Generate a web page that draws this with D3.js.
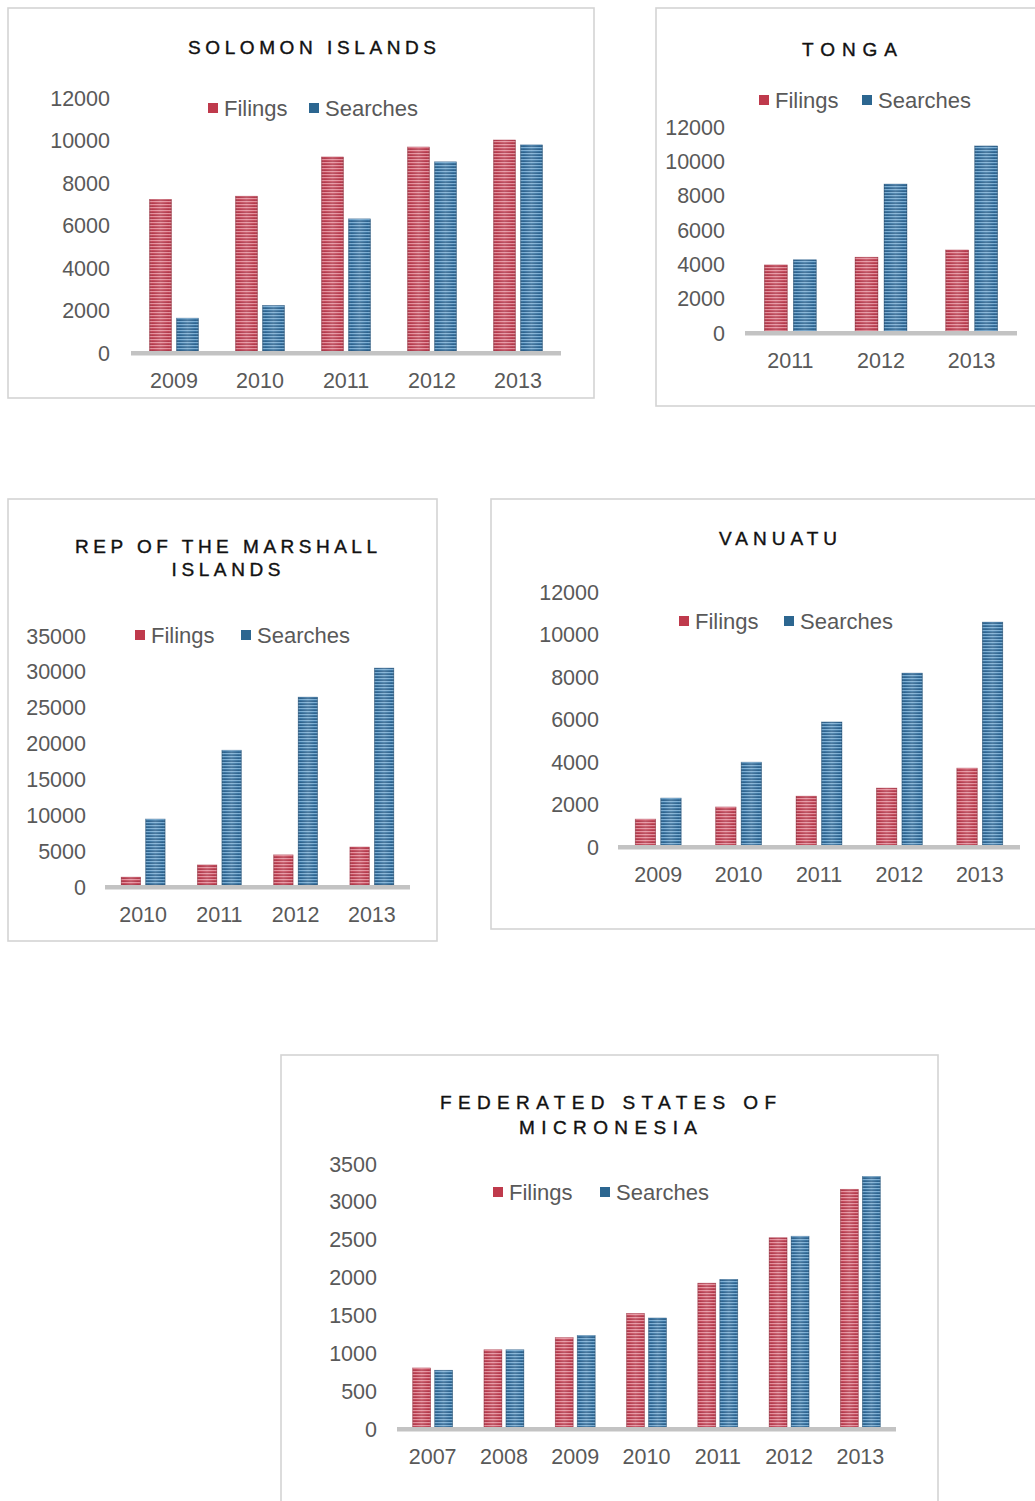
<!DOCTYPE html>
<html><head><meta charset="utf-8">
<script src="https://cdn.jsdelivr.net/npm/d3@7"></script>
<style>
html,body{margin:0;padding:0;background:#fff;}
svg{display:block;font-family:"Liberation Sans",Arial,sans-serif;}
</style></head>
<body>
<script>
// ---------- DATA ----------
const seriesNames = ["Filings", "Searches"];

const solomonYears = ["2009", "2010", "2011", "2012", "2013"];
const solomonFilings = [7150, 7300, 9150, 9620, 9950];
const solomonSearches = [1550, 2150, 6230, 8920, 9720];
const solomonTicks = [0, 2000, 4000, 6000, 8000, 10000, 12000];

const tongaYears = ["2011", "2012", "2013"];
const tongaFilings = [3850, 4300, 4720];
const tongaSearches = [4150, 8560, 10780];
const tongaTicks = [0, 2000, 4000, 6000, 8000, 10000, 12000];

const marshallYears = ["2010", "2011", "2012", "2013"];
const marshallFilings = [1100, 2800, 4200, 5300];
const marshallSearches = [9200, 18800, 26200, 30250];
const marshallTicks = [0, 5000, 10000, 15000, 20000, 25000, 30000, 35000];

const vanuatuYears = ["2009", "2010", "2011", "2012", "2013"];
const vanuatuFilings = [1220, 1790, 2300, 2680, 3620];
const vanuatuSearches = [2210, 3900, 5790, 8090, 10490];
const vanuatuTicks = [0, 2000, 4000, 6000, 8000, 10000, 12000];

const fsmYears = ["2007", "2008", "2009", "2010", "2011", "2012", "2013"];
const fsmFilings = [780, 1020, 1180, 1500, 1900, 2500, 3140];
const fsmSearches = [750, 1020, 1210, 1440, 1950, 2520, 3310];
const fsmTicks = [0, 500, 1000, 1500, 2000, 2500, 3000, 3500];

// ---------- LAYOUT ----------
const panels = [
  {title:["SOLOMON ISLANDS"], years:solomonYears, f:solomonFilings, s:solomonSearches, ticks:solomonTicks,
   box:[8,8,586,390], tx:312, ty:[47], tl:[248], x0:131, x1:561, y0:351, yTop:96.5,
   lab:110, legY:108, legF:208, legS:309, bw:22, gap:5},
  {title:["TONGA"], years:tongaYears, f:tongaFilings, s:tongaSearches, ticks:tongaTicks,
   box:[656,8,420,398], tx:849.5, ty:[49], tl:[95], x0:745, x1:1017, y0:331, yTop:125,
   lab:725, legY:100, legF:759, legS:862, bw:23, gap:6},
  {title:["REP OF THE MARSHALL","ISLANDS"], years:marshallYears, f:marshallFilings, s:marshallSearches, ticks:marshallTicks,
   box:[8,499,429,442], tx:226, ty:[546,569], tl:[302,109], x0:105, x1:410, y0:885, yTop:634,
   lab:86, legY:635, legF:135, legS:241, bw:19.5, gap:5},
  {title:["VANUATU"], years:vanuatuYears, f:vanuatuFilings, s:vanuatuSearches, ticks:vanuatuTicks,
   box:[491,499,580,430], tx:778, ty:[538], tl:[118], x0:618, x1:1020, y0:845, yTop:590,
   lab:599, legY:621, legF:679, legS:784, bw:20.5, gap:5},
  {title:["FEDERATED STATES OF","MICRONESIA"], years:fsmYears, f:fsmFilings, s:fsmSearches, ticks:fsmTicks,
   box:[281,1055,657,470], tx:608, ty:[1102,1127], tl:[336,178], x0:397, x1:896, y0:1427, yTop:1162,
   lab:377, legY:1192, legF:493, legS:600, bw:18, gap:4}
];

const W = 1035, H = 1501;
const svg = d3.select("body").append("svg").attr("width", W).attr("height", H);
const defs = svg.append("defs");

const palette = {
  Filings:  {base:"#c44a5b", light:"#e48f9c", dark:"#a93244", legend:"#bf3a4c"},
  Searches: {base:"#3a74a1", light:"#7aadd3", dark:"#275883", legend:"#2c6690"}
};
Object.entries(palette).forEach(([k, c]) => {
  const p = defs.append("pattern").attr("id", "pat" + k)
    .attr("patternUnits", "userSpaceOnUse").attr("width", 8).attr("height", 3);
  p.append("rect").attr("width", 8).attr("height", 3).attr("fill", c.base);
  p.append("rect").attr("y", 0).attr("width", 8).attr("height", 1).attr("fill", c.light);
  p.append("rect").attr("y", 2).attr("width", 8).attr("height", 1).attr("fill", c.dark).attr("opacity", 0.7);
});
const g = defs.append("linearGradient").attr("id", "shade").attr("x1", 0).attr("x2", 1).attr("y1", 0).attr("y2", 0);
[[0, "#000", 0.18], [0.12, "#fff", 0.0], [0.5, "#fff", 0.15], [0.88, "#fff", 0.0], [1, "#000", 0.18]]
  .forEach(([o, c, a]) => g.append("stop").attr("offset", o).attr("stop-color", c).attr("stop-opacity", a));

panels.forEach(P => {
  const gp = svg.append("g");
  // panel frame
  gp.append("rect").attr("x", P.box[0]).attr("y", P.box[1]).attr("width", P.box[2]).attr("height", P.box[3])
    .attr("fill", "#fff").attr("stroke", "#d4d4d4").attr("stroke-width", 1.6);

  // title
  P.title.forEach((t, i) => {
    gp.append("text").attr("x", P.tx).attr("y", P.ty[i]).attr("dy", "0.36em")
      .attr("text-anchor", "middle").attr("font-size", 19)
      .attr("textLength", P.tl[i]).attr("lengthAdjust", "spacing")
      .attr("fill", "#111").attr("stroke", "#111").attr("stroke-width", 0.4)
      .text(t);
  });

  const data = P.years.map((y, i) => ({year: y, Filings: P.f[i], Searches: P.s[i]}));
  const x = d3.scaleBand().domain(P.years).range([P.x0, P.x1]).paddingInner(0).paddingOuter(0);
  const y = d3.scaleLinear().domain([0, d3.max(P.ticks)]).range([P.y0, P.yTop]);
  const pin = P.gap / (P.bw + P.gap);
  const inner = d3.scaleBand().domain(seriesNames).range([-(P.bw + P.gap / 2), P.bw + P.gap / 2])
    .paddingInner(pin).paddingOuter(0);

  // y axis labels
  const ya = gp.append("g").attr("transform", `translate(${P.lab},0)`)
    .call(d3.axisLeft(y).tickValues(P.ticks).tickSize(0).tickPadding(0).tickFormat(d3.format("d")));
  ya.select(".domain").remove();
  ya.selectAll("text").attr("font-size", 21.5).attr("dy", "0.42em").attr("fill", "#595959")
    .attr("font-family", "Liberation Sans, Arial, sans-serif");

  // bars
  const grp = gp.selectAll(".grp").data(data).enter().append("g")
    .attr("transform", d => `translate(${x(d.year) + x.bandwidth() / 2},0)`);
  seriesNames.forEach(k => {
    grp.append("rect").attr("x", inner(k)).attr("width", inner.bandwidth())
      .attr("y", d => y(d[k])).attr("height", d => P.y0 - y(d[k]))
      .attr("fill", `url(#pat${k})`).attr("stroke", palette[k].dark).attr("stroke-width", 0.6).attr("stroke-opacity", 0.6);
    grp.append("rect").attr("x", inner(k)).attr("width", inner.bandwidth())
      .attr("y", d => y(d[k])).attr("height", d => P.y0 - y(d[k]))
      .attr("fill", "url(#shade)");
  });

  // baseline
  gp.append("rect").attr("x", P.x0).attr("y", P.y0).attr("width", P.x1 - P.x0).attr("height", 4.5).attr("fill", "#c3c3c3");

  // x axis labels
  const xa = gp.append("g").attr("transform", `translate(0,${P.y0})`)
    .call(d3.axisBottom(x).tickSize(0).tickPadding(22));
  xa.select(".domain").remove();
  xa.selectAll("text").attr("font-size", 21.5).attr("fill", "#595959").attr("font-family", "Liberation Sans, Arial, sans-serif");

  // legend
  [["Filings", P.legF], ["Searches", P.legS]].forEach(([k, lx]) => {
    gp.append("rect").attr("x", lx).attr("y", P.legY - 5).attr("width", 10).attr("height", 10).attr("fill", palette[k].legend);
    gp.append("text").attr("x", lx + 16).attr("y", P.legY).attr("dy", "0.35em")
      .attr("font-size", 22).attr("fill", "#595959").text(k);
  });
});
</script>
</body></html>
